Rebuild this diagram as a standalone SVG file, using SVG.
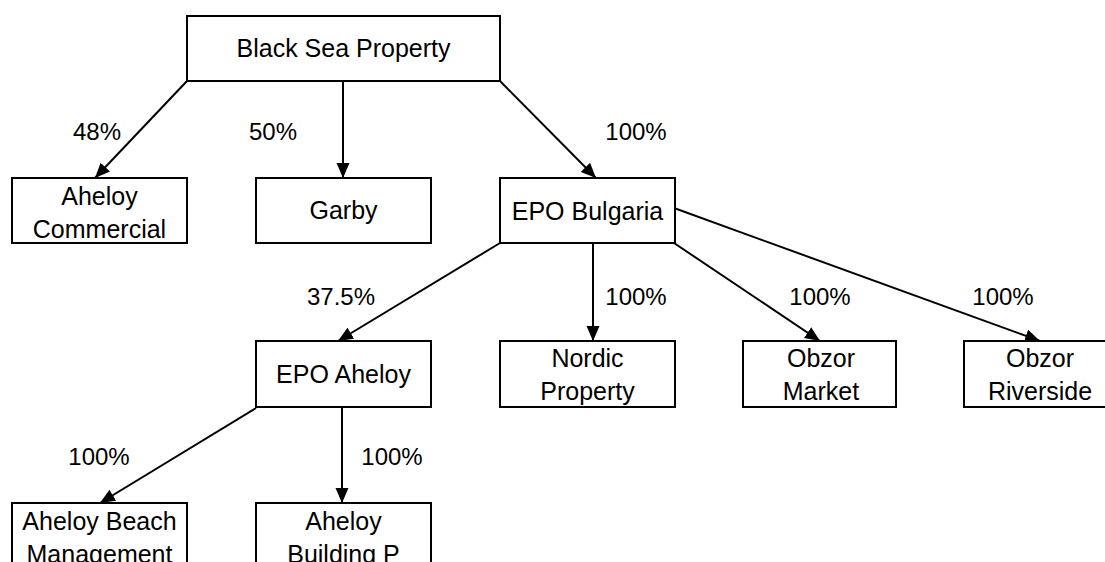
<svg xmlns="http://www.w3.org/2000/svg" width="1105" height="562" viewBox="0 0 1105 562">
<style>
.box{fill:#fff;stroke:#000;stroke-width:2}
.t{font-family:"Liberation Sans",Arial,Helvetica,sans-serif;font-size:25px;fill:#000;text-anchor:middle}
.l{font-family:"Liberation Sans",Arial,Helvetica,sans-serif;font-size:24px;fill:#000;text-anchor:middle}
.c{stroke:#000;stroke-width:2;fill:none;marker-end:url(#ah)}
</style>
<defs>
<marker id="ah" markerUnits="userSpaceOnUse" markerWidth="16" markerHeight="14" refX="15" refY="6.5" orient="auto">
<path d="M0,0 L15,6.5 L0,13 z" fill="#000"/>
</marker>
</defs>
<rect width="1105" height="562" fill="#fff"/>
<g id="connectors">
<line class="c" x1="187" y1="81" x2="95" y2="178"/>
<line class="c" x1="343" y1="81" x2="343" y2="178"/>
<line class="c" x1="500" y1="81" x2="596" y2="178"/>
<line class="c" x1="500" y1="243" x2="338" y2="341"/>
<line class="c" x1="593" y1="243" x2="593" y2="341"/>
<line class="c" x1="674" y1="243" x2="820" y2="341"/>
<line class="c" x1="674" y1="208" x2="1040" y2="341"/>
<line class="c" x1="256" y1="408" x2="100" y2="503"/>
<line class="c" x1="342" y1="408" x2="342" y2="503"/>
</g>
<g id="labels">
<text class="l" x="97" y="140">48%</text>
<text class="l" x="273" y="140">50%</text>
<text class="l" x="636" y="140">100%</text>
<text class="l" x="341" y="305">37.5%</text>
<text class="l" x="636" y="305">100%</text>
<text class="l" x="820" y="305">100%</text>
<text class="l" x="1003" y="305">100%</text>
<text class="l" x="99" y="465">100%</text>
<text class="l" x="392" y="465">100%</text>
</g>
<g id="n-black-sea"><rect class="box" x="187" y="16" width="313" height="65"/><text class="t" x="343.5" y="57">Black Sea Property</text></g>
<g id="n-aheloy-commercial"><rect class="box" x="12" y="178" width="175" height="65"/><text class="t" x="99.5" y="205">Aheloy</text><text class="t" x="99.5" y="238">Commercial</text></g>
<g id="n-garby"><rect class="box" x="256" y="178" width="175" height="65"/><text class="t" x="343.5" y="219">Garby</text></g>
<g id="n-epo-bulgaria"><rect class="box" x="500" y="178" width="175" height="65"/><text class="t" x="587.5" y="220">EPO Bulgaria</text></g>
<g id="n-epo-aheloy"><rect class="box" x="256" y="341" width="175" height="66"/><text class="t" x="343.5" y="383">EPO Aheloy</text></g>
<g id="n-nordic"><rect class="box" x="500" y="341" width="175" height="66"/><text class="t" x="587.5" y="367">Nordic</text><text class="t" x="587.5" y="400">Property</text></g>
<g id="n-obzor-market"><rect class="box" x="743" y="341" width="153" height="66"/><text class="t" x="821" y="367">Obzor</text><text class="t" x="821" y="400">Market</text></g>
<g id="n-obzor-riverside"><rect class="box" x="964" y="341" width="152" height="66"/><text class="t" x="1040" y="367">Obzor</text><text class="t" x="1040" y="400">Riverside</text></g>
<g id="n-aheloy-beach"><rect class="box" x="12" y="503" width="175" height="66"/><text class="t" x="99.5" y="530">Aheloy Beach</text><text class="t" x="99.5" y="563">Management</text></g>
<g id="n-aheloy-building"><rect class="box" x="256" y="503" width="175" height="66"/><text class="t" x="343.5" y="530">Aheloy</text><text class="t" x="343.5" y="563">Building P</text></g>
</svg>
